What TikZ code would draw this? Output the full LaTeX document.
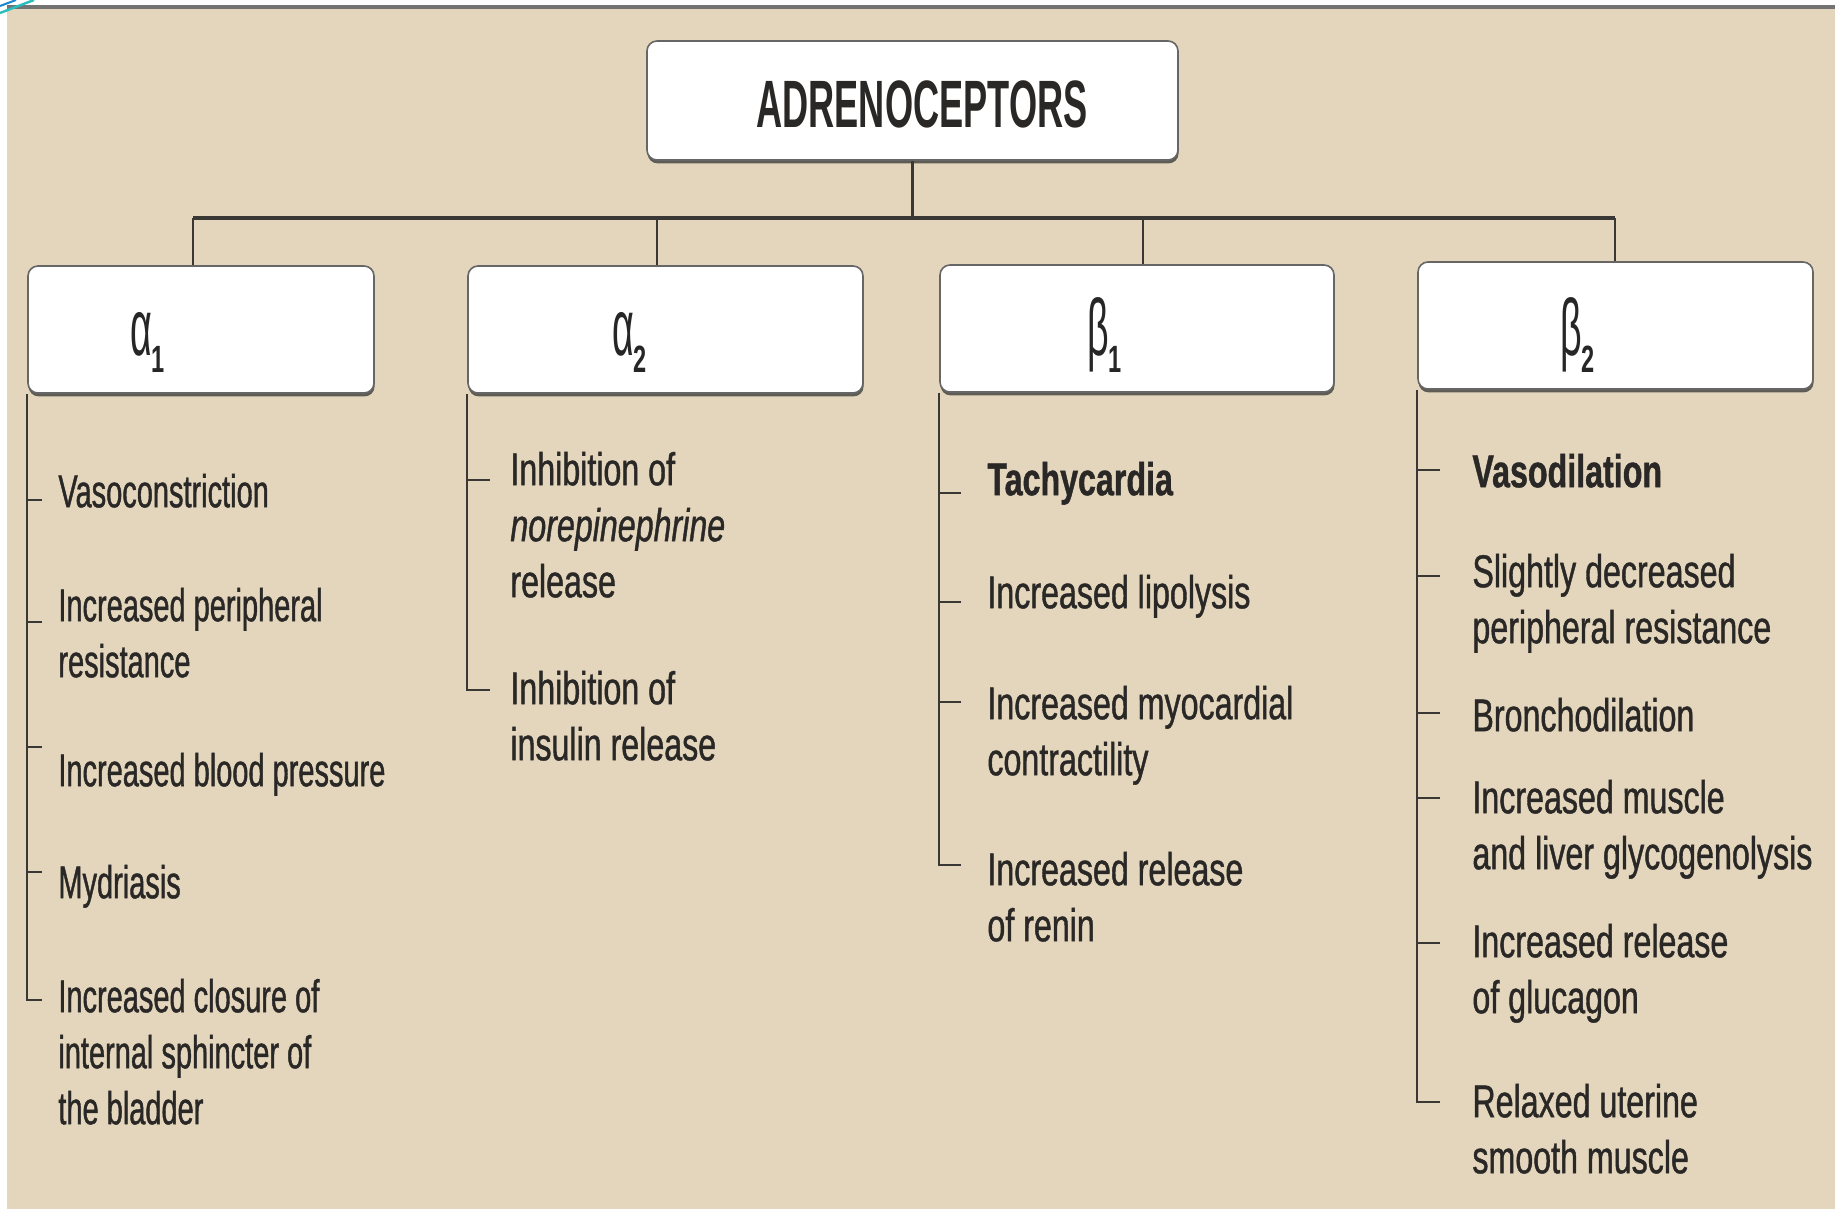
\documentclass[tikz,border=0pt]{standalone}
\usepackage{fontspec}
\setmainfont{Liberation Sans}
\newfontfamily\itemfont{Liberation Sans}[FakeStretch=0.70,FakeBold=0.9]
\newfontfamily\itemfontA{Liberation Sans}[FakeStretch=0.63,FakeBold=0.9]
\newfontfamily\headfont{Liberation Sans}[FakeStretch=0.54]
\newfontfamily\greekfont{Liberation Sans}[FakeStretch=0.47]
\newfontfamily\subfont{Liberation Sans Bold}[FakeStretch=0.62]
\usetikzlibrary{shadows}
\definecolor{bg}{RGB}{227,214,188}
\definecolor{txt}{RGB}{42,40,38}
\definecolor{ln}{RGB}{58,56,52}
\definecolor{swoosh}{RGB}{40,190,190}
\newcommand{\grk}[2]{{\greekfont\fontsize{40}{40}\selectfont #1}\kern-0.5pt\raisebox{-8.5pt}{\subfont\fontsize{19}{19}\selectfont #2}}
\begin{document}
\begin{tikzpicture}[x=0.5pt,y=-0.5pt,
  box/.style={draw=black!60, line width=0.8pt, fill=white, rounded corners=5pt, inner sep=0pt,
    drop shadow={shadow xshift=0.3pt, shadow yshift=-1.7pt, fill=black!80, opacity=0.75}},
  conn/.style={draw=ln, line width=1.1pt},
  barline/.style={draw=ln, line width=2pt},
  item/.style={anchor=north west, inner sep=0pt, align=left, text=txt, font=\itemfont\fontsize{23}{28}\selectfont},
  itemA/.style={item, font=\itemfontA\fontsize{23}{28}\selectfont},
  greek/.style={anchor=base west, inner sep=0pt, text=black!85},
  head/.style={inner sep=0pt, text=txt, font=\headfont\bfseries\fontsize{33.5}{33.5}\selectfont}]
\useasboundingbox (0,0) rectangle (1835,1209);
% background
\fill[white] (0,0) rectangle (1835,1209);
\fill[bg] (7,5) rectangle (1835,1209);
\draw[line width=2pt, black!55] (7,7) -- (1835,7);
\draw[swoosh, line width=1.2pt] (0,13) -- (34,0);
\draw[swoosh!70!blue, line width=1pt] (0,6) -- (16,0);

% boxes
\node[box, minimum width=265.5pt, minimum height=59.5pt] (top) at (912.5,100.5) {};
\node[head] (toplabel) at (922,104) {ADRENOCEPTORS};

\node[box, minimum width=173pt, minimum height=63.5pt] (a1) at (201,329.5) {};
\node[box, minimum width=197.5pt, minimum height=63.5pt] (a2) at (665.5,329.5) {};
\node[box, minimum width=197pt, minimum height=63.5pt] (b1) at (1137,328.5) {};
\node[box, minimum width=197.5pt, minimum height=63.5pt] (b2) at (1615.5,325.5) {};

\node[greek] (la1) at (130,355) {\grk{α}{1}};
\node[greek] (la2) at (612,355) {\grk{α}{2}};
\node[greek] (lb1) at (1087,355) {\grk{β}{1}};
\node[greek] (lb2) at (1560,355) {\grk{β}{2}};

% tree connectors
\coordinate (d1) at (193,218);
\coordinate (d2) at (657,218);
\coordinate (d3) at (1143,218);
\coordinate (d4) at (1615,218);
\draw[conn] (top.south) -- (top.south |- d1);
\draw[barline] (d1) -- (d4);
\draw[conn] (d1) -- (d1 |- a1.north);
\draw[conn] (d2) -- (d2 |- a2.north);
\draw[conn] (d3) -- (d3 |- b1.north);
\draw[conn] (d4) -- (d4 |- b2.north);

% alpha 1 items
\node[itemA] (a1i1) at (58,473.5) {Vasoconstriction};
\node[itemA] (a1i2) at (58,587.5) {Increased peripheral\\resistance};
\node[itemA] (a1i3) at (58,752.5) {Increased blood pressure};
\node[itemA] (a1i4) at (58,864.5) {Mydriasis};
\node[itemA] (a1i5) at (58,978.5) {Increased closure of\\internal sphincter of\\the bladder};
\coordinate (a1t1) at (42,500);
\coordinate (a1t2) at (42,622);
\coordinate (a1t3) at (42,747);
\coordinate (a1t4) at (42,872);
\coordinate (a1t5) at (42,1000);
\draw[conn] (a1.south west) -- (a1.south west |- a1t5) -- (a1t5);
\foreach \t in {a1t1,a1t2,a1t3,a1t4} \draw[conn] (a1.south west |- \t) -- (\t);

% alpha 2 items
\node[item] (a2i1) at (510,451.5) {Inhibition of\\\textit{norepinephrine}\\release};
\node[item] (a2i2) at (510,670.5) {Inhibition of\\insulin release};
\coordinate (a2t1) at (490,480);
\coordinate (a2t2) at (490,690);
\draw[conn] (a2.south west) -- (a2.south west |- a2t2) -- (a2t2);
\draw[conn] (a2.south west |- a2t1) -- (a2t1);

% beta 1 items
\node[item] (b1i1) at (987,461.5) {\bfseries Tachycardia};
\node[item] (b1i2) at (987,574.5) {Increased lipolysis};
\node[item] (b1i3) at (987,685.5) {Increased myocardial\\contractility};
\node[item] (b1i4) at (987,851.5) {Increased release\\of renin};
\coordinate (b1t1) at (961,493);
\coordinate (b1t2) at (961,602);
\coordinate (b1t3) at (961,702);
\coordinate (b1t4) at (961,865);
\draw[conn] (b1.south west) -- (b1.south west |- b1t4) -- (b1t4);
\foreach \t in {b1t1,b1t2,b1t3} \draw[conn] (b1.south west |- \t) -- (\t);

% beta 2 items
\node[item] (b2i1) at (1472,453.5) {\bfseries Vasodilation};
\node[item] (b2i2) at (1472,553.5) {Slightly decreased\\peripheral resistance};
\node[item] (b2i3) at (1472,697.5) {Bronchodilation};
\node[item] (b2i4) at (1472,779.5) {Increased muscle\\and liver glycogenolysis};
\node[item] (b2i5) at (1472,923.5) {Increased release\\of glucagon};
\node[item] (b2i6) at (1472,1083.5) {Relaxed uterine\\smooth muscle};
\coordinate (b2t1) at (1440,470);
\coordinate (b2t2) at (1440,576);
\coordinate (b2t3) at (1440,713);
\coordinate (b2t4) at (1440,798);
\coordinate (b2t5) at (1440,943);
\coordinate (b2t6) at (1440,1102);
\draw[conn] (b2.south west) -- (b2.south west |- b2t6) -- (b2t6);
\foreach \t in {b2t1,b2t2,b2t3,b2t4,b2t5} \draw[conn] (b2.south west |- \t) -- (\t);
\end{tikzpicture}
\end{document}
